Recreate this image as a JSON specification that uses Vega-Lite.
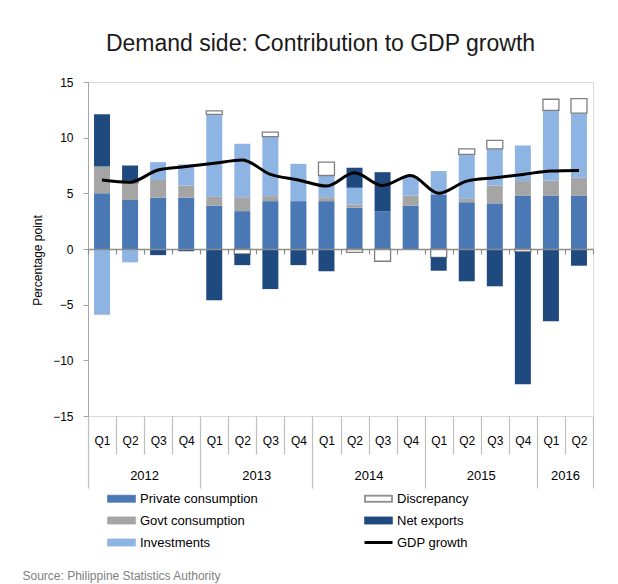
{
  "$schema": "https://vega.github.io/schema/vega-lite/v6.json",
  "width": 505,
  "height": 334,
  "autosize": {"type": "none"},
  "padding": {"left": 88, "top": 82, "right": 25, "bottom": 168},
  "background": "white",
  "config": {"font": "Liberation Sans", "view": {"stroke": "#d9d9d9"}},
  "title": {"text": "Demand side: Contribution to GDP growth", "fontSize": 23, "fontWeight": "normal", "color": "#1a1a1a", "anchor": "middle", "frame": "group", "dx": -20, "offset": 20},
  "datasets": {
    "bars": [
      {"period": "2012 Q1", "component": "Private consumption", "value": 5.0},
      {"period": "2012 Q1", "component": "Govt consumption", "value": 2.4},
      {"period": "2012 Q1", "component": "Investments", "value": -5.9},
      {"period": "2012 Q1", "component": "Net exports", "value": 4.7},
      {"period": "2012 Q2", "component": "Private consumption", "value": 4.4},
      {"period": "2012 Q2", "component": "Govt consumption", "value": 1.55},
      {"period": "2012 Q2", "component": "Investments", "value": -1.2},
      {"period": "2012 Q2", "component": "Discrepancy", "value": 0.2},
      {"period": "2012 Q2", "component": "Net exports", "value": 1.35},
      {"period": "2012 Q3", "component": "Private consumption", "value": 4.6},
      {"period": "2012 Q3", "component": "Govt consumption", "value": 1.6},
      {"period": "2012 Q3", "component": "Investments", "value": 1.6},
      {"period": "2012 Q3", "component": "Net exports", "value": -0.55},
      {"period": "2012 Q4", "component": "Private consumption", "value": 4.6},
      {"period": "2012 Q4", "component": "Govt consumption", "value": 1.1},
      {"period": "2012 Q4", "component": "Investments", "value": 1.9},
      {"period": "2012 Q4", "component": "Net exports", "value": -0.2},
      {"period": "2013 Q1", "component": "Private consumption", "value": 3.9},
      {"period": "2013 Q1", "component": "Govt consumption", "value": 0.8},
      {"period": "2013 Q1", "component": "Investments", "value": 7.4},
      {"period": "2013 Q1", "component": "Discrepancy", "value": 0.3},
      {"period": "2013 Q1", "component": "Net exports", "value": -4.6},
      {"period": "2013 Q2", "component": "Private consumption", "value": 3.4},
      {"period": "2013 Q2", "component": "Govt consumption", "value": 1.25},
      {"period": "2013 Q2", "component": "Investments", "value": 4.8},
      {"period": "2013 Q2", "component": "Discrepancy", "value": -0.45},
      {"period": "2013 Q2", "component": "Net exports", "value": -1.0},
      {"period": "2013 Q3", "component": "Private consumption", "value": 4.3},
      {"period": "2013 Q3", "component": "Govt consumption", "value": 0.45},
      {"period": "2013 Q3", "component": "Investments", "value": 5.35},
      {"period": "2013 Q3", "component": "Discrepancy", "value": 0.4},
      {"period": "2013 Q3", "component": "Net exports", "value": -3.6},
      {"period": "2013 Q4", "component": "Private consumption", "value": 4.3},
      {"period": "2013 Q4", "component": "Govt consumption", "value": -0.1},
      {"period": "2013 Q4", "component": "Investments", "value": 3.35},
      {"period": "2013 Q4", "component": "Net exports", "value": -1.35},
      {"period": "2014 Q1", "component": "Private consumption", "value": 4.3},
      {"period": "2014 Q1", "component": "Govt consumption", "value": 0.35},
      {"period": "2014 Q1", "component": "Investments", "value": 1.95},
      {"period": "2014 Q1", "component": "Discrepancy", "value": 1.2},
      {"period": "2014 Q1", "component": "Net exports", "value": -2.0},
      {"period": "2014 Q2", "component": "Private consumption", "value": 3.7},
      {"period": "2014 Q2", "component": "Govt consumption", "value": 0.3},
      {"period": "2014 Q2", "component": "Investments", "value": 1.5},
      {"period": "2014 Q2", "component": "Discrepancy", "value": -0.3},
      {"period": "2014 Q2", "component": "Net exports", "value": 1.8},
      {"period": "2014 Q3", "component": "Private consumption", "value": 3.4},
      {"period": "2014 Q3", "component": "Discrepancy", "value": -1.1},
      {"period": "2014 Q3", "component": "Net exports", "value": 3.5},
      {"period": "2014 Q4", "component": "Private consumption", "value": 3.9},
      {"period": "2014 Q4", "component": "Govt consumption", "value": 0.9},
      {"period": "2014 Q4", "component": "Investments", "value": 1.7},
      {"period": "2015 Q1", "component": "Private consumption", "value": 4.9},
      {"period": "2015 Q1", "component": "Investments", "value": 2.1},
      {"period": "2015 Q1", "component": "Discrepancy", "value": -0.75},
      {"period": "2015 Q1", "component": "Net exports", "value": -1.2},
      {"period": "2015 Q2", "component": "Private consumption", "value": 4.2},
      {"period": "2015 Q2", "component": "Govt consumption", "value": 0.3},
      {"period": "2015 Q2", "component": "Investments", "value": 4.0},
      {"period": "2015 Q2", "component": "Discrepancy", "value": 0.5},
      {"period": "2015 Q2", "component": "Net exports", "value": -2.9},
      {"period": "2015 Q3", "component": "Private consumption", "value": 4.1},
      {"period": "2015 Q3", "component": "Govt consumption", "value": 1.6},
      {"period": "2015 Q3", "component": "Investments", "value": 3.3},
      {"period": "2015 Q3", "component": "Discrepancy", "value": 0.75},
      {"period": "2015 Q3", "component": "Net exports", "value": -3.35},
      {"period": "2015 Q4", "component": "Private consumption", "value": 4.8},
      {"period": "2015 Q4", "component": "Govt consumption", "value": 1.3},
      {"period": "2015 Q4", "component": "Investments", "value": 3.2},
      {"period": "2015 Q4", "component": "Discrepancy", "value": -0.25},
      {"period": "2015 Q4", "component": "Net exports", "value": -11.9},
      {"period": "2016 Q1", "component": "Private consumption", "value": 4.8},
      {"period": "2016 Q1", "component": "Govt consumption", "value": 1.35},
      {"period": "2016 Q1", "component": "Investments", "value": 6.3},
      {"period": "2016 Q1", "component": "Discrepancy", "value": 1.0},
      {"period": "2016 Q1", "component": "Net exports", "value": -6.5},
      {"period": "2016 Q2", "component": "Private consumption", "value": 4.8},
      {"period": "2016 Q2", "component": "Govt consumption", "value": 1.6},
      {"period": "2016 Q2", "component": "Investments", "value": 5.8},
      {"period": "2016 Q2", "component": "Discrepancy", "value": 1.3},
      {"period": "2016 Q2", "component": "Net exports", "value": -1.5}
    ],
    "gdp": [
      {"period": "2012 Q1", "gdp": 6.2},
      {"period": "2012 Q2", "gdp": 6.0},
      {"period": "2012 Q3", "gdp": 7.1},
      {"period": "2012 Q4", "gdp": 7.4},
      {"period": "2013 Q1", "gdp": 7.7},
      {"period": "2013 Q2", "gdp": 8.0},
      {"period": "2013 Q3", "gdp": 6.7},
      {"period": "2013 Q4", "gdp": 6.2},
      {"period": "2014 Q1", "gdp": 5.65},
      {"period": "2014 Q2", "gdp": 6.85},
      {"period": "2014 Q3", "gdp": 5.7},
      {"period": "2014 Q4", "gdp": 6.6},
      {"period": "2015 Q1", "gdp": 5.0},
      {"period": "2015 Q2", "gdp": 6.1},
      {"period": "2015 Q3", "gdp": 6.4},
      {"period": "2015 Q4", "gdp": 6.7},
      {"period": "2016 Q1", "gdp": 7.0},
      {"period": "2016 Q2", "gdp": 7.05}
    ]
  },
  "layer": [
    {
      "data": {"name": "bars"},
      "transform": [
        {"calculate": "indexof(['Private consumption', 'Govt consumption', 'Investments', 'Discrepancy', 'Net exports'], datum.component)", "as": "stack_order"}
      ],
      "mark": {"type": "bar", "width": {"band": 0.57}, "strokeWidth": 1.3},
      "encoding": {
        "x": {
          "field": "period", "type": "ordinal",
          "scale": {"paddingInner": 0, "paddingOuter": 0},
          "axis": {
            "orient": "bottom", "title": null, "domain": false,
            "tickBand": "extent", "tickColor": "#bfbfbf", "tickWidth": 1.2,
            "tickSize": {"condition": {"test": "!isValid(datum.value) || indexof(['2012 Q4','2013 Q4','2014 Q4','2015 Q4','2016 Q2'], datum.value) >= 0", "value": 72}, "value": 38},
            "labelPadding": {"condition": {"test": "!isValid(datum.value) || indexof(['2012 Q4','2013 Q4','2014 Q4','2015 Q4','2016 Q2'], datum.value) >= 0", "value": -53}, "value": -19},
            "labelExpr": "isValid(datum.value) ? slice(datum.value, 5) : ''",
            "labelAngle": 0, "labelFontSize": 12, "labelColor": "#000", "labelBaseline": "top", "labelOverlap": false
          }
        },
        "y": {
          "field": "value", "type": "quantitative", "stack": "zero",
          "scale": {"domain": [-15, 15], "nice": false},
          "axis": {
            "title": "Percentage point", "values": [-15, -10, -5, 0, 5, 10, 15], "grid": false,
            "domainColor": "#a6a6a6", "tickColor": "#a6a6a6", "tickSize": 5,
            "labelFontSize": 12, "labelColor": "#000", "labelPadding": 10,
            "titleFontSize": 12, "titleFontWeight": "normal", "titleColor": "#000",
            "titleX": -51, "titleY": 178, "titleBaseline": "middle"
          }
        },
        "order": {"field": "stack_order", "type": "quantitative"},
        "color": {
          "condition": {"test": "datum.component === 'Discrepancy'", "value": "#ffffff"},
          "field": "component", "type": "nominal",
          "scale": {
            "domain": ["Private consumption", "Govt consumption", "Investments", "Discrepancy", "Net exports", "GDP growth"],
            "range": ["#4a78b4", "#a5a5a5", "#8eb4e3", "#7f7f7f", "#1f4a7f", "#000000"]
          },
          "legend": {
            "orient": "none", "legendX": 27, "legendY": 410, "columns": 2, "columnPadding": 100, "rowPadding": 8,
            "title": null, "labelFontSize": 13, "labelColor": "#000", "symbolSize": 400, "labelOffset": 12, "labelLimit": 300, "padding": 0,
            "encode": {
              "symbols": {
                "update": {
                  "shape": {"signal": "datum.value === 'GDP growth' ? 'M-1.4,0H1.4' : (datum.value === 'Discrepancy' ? 'M-1.4,-0.36H1.4V0.36H-1.4Z M-1.3,-0.26V0.26H1.3V-0.26Z' : 'M-1.4,-0.36H1.4V0.36H-1.4Z')"},
                  "strokeWidth": {"signal": "datum.value === 'GDP growth' ? 3 : 0.6"},
                  "opacity": {"value": 1}
                }
              }
            }
          }
        },
        "stroke": {"condition": {"test": "datum.component === 'Discrepancy'", "value": "#7f7f7f"}, "value": "transparent"}
      }
    },
    {
      "data": {"name": "gdp"},
      "mark": {"type": "line", "interpolate": "monotone", "strokeWidth": 3},
      "encoding": {
        "x": {
          "field": "period", "type": "ordinal",
          "axis": {
            "orient": "bottom", "offset": -167,
            "title": "Source: Philippine Statistics Authority", "titleFontSize": 12, "titleFontWeight": "normal", "titleColor": "#7f7f7f",
            "titleX": -66, "titleY": 326, "titleAlign": "left", "titleBaseline": "middle", "titleAngle": 0,
            "domainColor": "#8c8c8c", "domainWidth": 1.5,
            "tickBand": "extent", "tickSize": 5, "tickColor": "#8c8c8c", "tickWidth": 1.2,
            "labelExpr": "!isValid(datum.value) ? '' : ((datum.value === '2016 Q1' || (slice(datum.value, 5) === 'Q2' && datum.value !== '2016 Q2')) ? slice(datum.value, 0, 4) : '')",
            "labelOffset": 14, "labelPadding": 215, "labelFontSize": 13, "labelColor": "#000", "labelAngle": 0, "labelOverlap": false,
            "zindex": 1
          }
        },
        "y": {
          "field": "gdp", "type": "quantitative",
          "axis": {
            "title": "Percentage point", "values": [-15, -10, -5, 0, 5, 10, 15], "grid": false,
            "domainColor": "#a6a6a6", "tickColor": "#a6a6a6", "tickSize": 5,
            "labelFontSize": 12, "labelColor": "#000", "labelPadding": 10,
            "titleFontSize": 12, "titleFontWeight": "normal", "titleColor": "#000",
            "titleX": -51, "titleY": 178, "titleBaseline": "middle"
          }
        },
        "color": {
          "datum": "GDP growth",
          "legend": {
            "orient": "none", "legendX": 27, "legendY": 410, "columns": 2, "columnPadding": 100, "rowPadding": 8,
            "title": null, "labelFontSize": 13, "labelColor": "#000", "symbolSize": 400, "labelOffset": 12, "labelLimit": 300, "padding": 0,
            "encode": {
              "symbols": {
                "update": {
                  "shape": {"signal": "datum.value === 'GDP growth' ? 'M-1.4,0H1.4' : (datum.value === 'Discrepancy' ? 'M-1.4,-0.36H1.4V0.36H-1.4Z M-1.3,-0.26V0.26H1.3V-0.26Z' : 'M-1.4,-0.36H1.4V0.36H-1.4Z')"},
                  "strokeWidth": {"signal": "datum.value === 'GDP growth' ? 3 : 0.6"},
                  "opacity": {"value": 1}
                }
              }
            }
          }
        }
      }
    }
  ],
  "resolve": {"axis": {"x": "independent"}}
}
